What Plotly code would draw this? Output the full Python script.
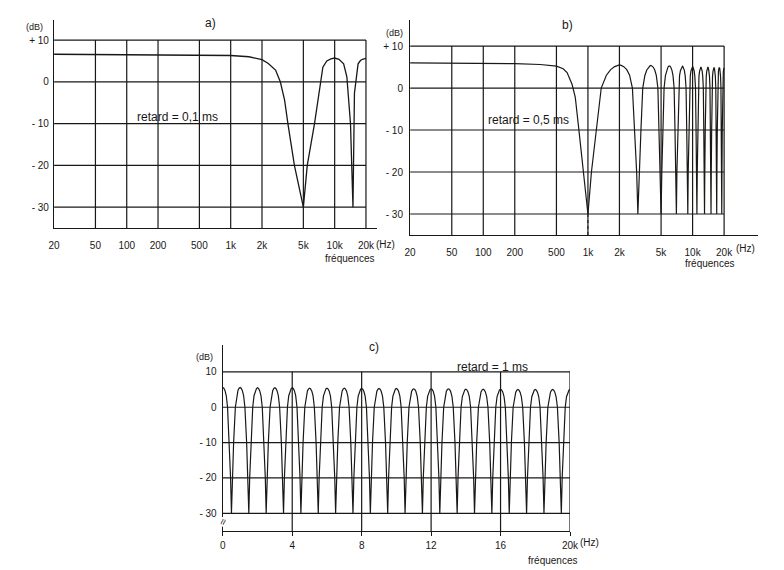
import plotly.graph_objects as go

W, H = 784, 570
INK = "#1a1816"
FONT = "Liberation Sans, Arial, sans-serif"

# ---- a) retard = 0,1 ms : points (Hz, dB)
freq_a = [20, 200, 1000, 1500, 2000, 2300, 2700, 3000, 3300, 3550, 4100, 5000,
          5450, 6400, 7200, 7700, 8400, 9200, 10000, 11000, 12200, 13100, 14200,
          14600, 15000, 15500, 16800, 17700, 18500, 20000]
db_a = [6.6, 6.5, 6.3, 6.0, 5.3, 4.4, 2.8, 0, -4.4, -10, -20, -30,
        -20, -10, -2, 3.5, 5.0, 5.5, 5.7, 5.4, 4.3, 1.2, -10,
        -20, -30, -2.7, 4.3, 5.1, 5.4, 5.6]

# ---- b) retard = 0,5 ms : debut de courbe puis creux / sommets
freq_b_low = [20, 100, 200, 350, 500, 580, 632, 705, 757, 813, 906]
db_b_low = [6.0, 5.9, 5.8, 5.6, 5.2, 4.6, 3.7, 0.9, -2.2, -9.2, -20]
notch_b = [1000, 3000, 5000, 7000, 9000, 11000, 13000, 15000, 17000, 19000]
peak_b = [2000, 4000, 6000, 8000, 10000, 12000, 14000, 16000, 18000, 20000]
peak_db_b = [5.5, 5.4, 5.3, 5.2, 5.1, 5.0, 5.0, 4.9, 4.9, 4.8]

# ---- c) retard = 1 ms (axe lineaire, kHz)
notch_c = [0.5, 1.5, 2.5, 3.5, 4.5, 5.5, 6.5, 7.5, 8.5, 9.5, 10.5, 11.5, 12.5,
           13.5, 14.5, 15.5, 16.5, 17.5, 18.5, 19.5]
peak_c = [0, 1, 2, 3, 4, 5, 6, 7, 8, 9, 10, 11, 12, 13, 14, 15, 16, 17, 18, 19, 20]
peak_db_c = [5.6, 5.6, 5.5, 5.5, 5.5, 5.4, 5.4, 5.4, 5.3, 5.3, 5.3, 5.2, 5.2,
             5.2, 5.1, 5.1, 5.1, 5.0, 5.0, 5.0, 5.0]

NOTCH_DB = -30
LOBE_REF = 5.4
# profil d'un demi-lobe (fraction creux -> sommet, dB)
lobe_u_b = [0.08, 0.21, 0.34, 0.5, 0.65, 0.8, 0.92]
lobe_db_b = [-20, -10, 0, 3.0, 4.3, 5.0, 5.3]
lobe_u_c = [0.1, 0.25, 0.45, 0.6, 0.75, 0.88]
lobe_db_c = [-20, -10, 0, 3.2, 4.6, 5.2]

ticks_log = [20, 50, 100, 200, 500, 1000, 2000, 5000, 10000, 20000]
ticks_log_txt = ["20", "50", "100", "200", "500", "1k", "2k", "5k", "10k", "20k"]
ticks_lin = [0, 4, 8, 12, 16, 20]
ticks_lin_txt = ["0", "4", "8", "12", "16", "20k"]
levels = [10, 0, -10, -20, -30]
levels_ab = ["+ 10", "0", "- 10", "- 20", "- 30"]
levels_c = ["10", "0", "- 10", "- 20", "- 30"]
Y_BOT = -35


def peigne(notches, peaks, peaks_db, u, lv):
    anchors = sorted([(f, NOTCH_DB, True) for f in notches] +
                     [(f, d, False) for f, d in zip(peaks, peaks_db)])
    xs, ys = [anchors[0][0]], [anchors[0][1]]
    for (f0, d0, n0), (f1, d1, n1) in zip(anchors[:-1], anchors[1:]):
        if n0:  # creux -> sommet
            for uu, l in zip(u, lv):
                xs.append(f0 + uu * (f1 - f0))
                ys.append(l if l <= 0 else l * d1 / LOBE_REF)
        else:  # sommet -> creux
            for uu, l in reversed(list(zip(u, lv))):
                xs.append(f1 - uu * (f1 - f0))
                ys.append(l if l <= 0 else l * d0 / LOBE_REF)
        xs.append(f1)
        ys.append(d1)
    return xs, ys


def grille(x0, x1, xticks):
    xs, ys = [], []
    for lv in levels:
        xs += [x0, x1, None]
        ys += [lv, lv, None]
    for t in xticks[1:]:
        xs += [t, t, None]
        ys += [Y_BOT, levels[0], None]
    return xs, ys


fig = go.Figure()

for xa, ya, x0, x1, tk in [("x", "y", 20, 20000, ticks_log),
                           ("x2", "y2", 20, 20000, ticks_log),
                           ("x3", "y3", 0, 20, ticks_lin)]:
    gx, gy = grille(x0, x1, tk)
    fig.add_trace(go.Scatter(x=gx, y=gy, mode="lines", xaxis=xa, yaxis=ya,
                             line=dict(color=INK, width=1.2), hoverinfo="skip"))

fig.add_trace(go.Scatter(x=freq_a, y=db_a, mode="lines", xaxis="x", yaxis="y",
                         line=dict(color=INK, width=1.3)))

bx, by = peigne(notch_b, peak_b, peak_db_b, lobe_u_b, lobe_db_b)
fig.add_trace(go.Scatter(x=freq_b_low + bx, y=db_b_low + by, mode="lines",
                         xaxis="x2", yaxis="y2", line=dict(color=INK, width=1.2)))
# pointilles sous le creux de 1 kHz
fig.add_trace(go.Scatter(x=[notch_b[0], notch_b[0]], y=[NOTCH_DB, Y_BOT], mode="lines",
                         xaxis="x2", yaxis="y2",
                         line=dict(color=INK, width=1, dash="3px,3px")))

cx, cy = peigne(notch_c, peak_c, peak_db_c, lobe_u_c, lobe_db_c)
fig.add_trace(go.Scatter(x=cx, y=cy, mode="lines", xaxis="x3", yaxis="y3",
                         line=dict(color=INK, width=1.2)))


def px(x):
    return x / W


def py(y):
    return 1 - y / H


tickfont = dict(family=FONT, size=10, color=INK)
ax_common = dict(showgrid=False, zeroline=False, showline=True, linecolor=INK,
                 linewidth=1.3, tickfont=tickfont)

fig.update_layout(
    width=W, height=H, margin=dict(l=0, r=0, t=0, b=0),
    paper_bgcolor="white", plot_bgcolor="white", showlegend=False,
    font=dict(family=FONT, color=INK),
    xaxis=dict(ax_common, type="log", range=[1.30103, 4.405],
               domain=[px(49), px(378)], anchor="y",
               tickvals=ticks_log, ticktext=ticks_log_txt, ticks="",
               ticklabelstandoff=8),
    yaxis=dict(ax_common, range=[Y_BOT, 14.8], domain=[py(228), py(20)], anchor="x",
               tickvals=levels, ticktext=levels_ab, ticks="", ticklabelstandoff=2),
    xaxis2=dict(ax_common, type="log", range=[1.30103, 4.628],
                domain=[px(412), px(767)], anchor="y2",
                tickvals=ticks_log, ticktext=ticks_log_txt, ticks="",
                ticklabelstandoff=8),
    yaxis2=dict(ax_common, range=[Y_BOT, 16.2], domain=[py(235), py(20)], anchor="x2",
                tickvals=levels, ticktext=levels_ab, ticks="", ticklabelstandoff=4),
    xaxis3=dict(ax_common, range=[0, 20], domain=[px(221), px(575)], anchor="y3",
                tickvals=ticks_lin, ticktext=ticks_lin_txt, ticks="outside",
                ticklen=4, tickcolor=INK, ticklabelstandoff=1),
    yaxis3=dict(ax_common, range=[Y_BOT, 17.6], domain=[py(531), py(345)], anchor="x3",
                tickvals=levels, ticktext=levels_c, ticks="", ticklabelstandoff=3),
)

notes = [
    ("(dB)", 29, 27, 9, "center"),
    ("a)", 208, 23, 12, "center"),
    ("fréquences", 350, 258, 10, "center"),
    ("(Hz)", 375, 244, 10, "left"),
    ("(dB)", 396, 33, 9, "center"),
    ("b)", 572, 25, 12, "center"),
    ("fréquences", 717, 263, 10, "center"),
    ("(Hz)", 742, 248, 10, "left"),
    ("(dB)", 202, 357, 9, "center"),
    ("c)", 375, 347, 12, "center"),
    ("retard = 1 ms", 496, 367, 12, "center"),
    ("fréquences", 557, 560, 10, "center"),
    ("(Hz)", 583, 542, 10, "left"),
]
for txt, x, y, s, anc in notes:
    fig.add_annotation(text=txt, x=px(x), y=py(y), xref="paper", yref="paper",
                       showarrow=False, xanchor=anc, yanchor="middle",
                       font=dict(family=FONT, size=s, color=INK))

fig.add_annotation(text="retard = 0,1 ms", x=2.49, y=-8.4, xref="x", yref="y",
                   showarrow=False, font=dict(family=FONT, size=12, color=INK))
fig.add_annotation(text="retard = 0,5 ms", x=2.43, y=-7.7, xref="x2", yref="y2",
                   showarrow=False, font=dict(family=FONT, size=12, color=INK))
# coupure de l'axe c)
fig.add_annotation(text="≈", x=0, y=-32.5, xref="x3", yref="y3", showarrow=False,
                   textangle=-70, bgcolor="white",
                   font=dict(family=FONT, size=11, color=INK))

# la page html garde sinon une marge de 8 px autour du graphique
fig.write_html("out.html", config={"displayModeBar": False},
               post_script="document.body.style.margin='0';")
